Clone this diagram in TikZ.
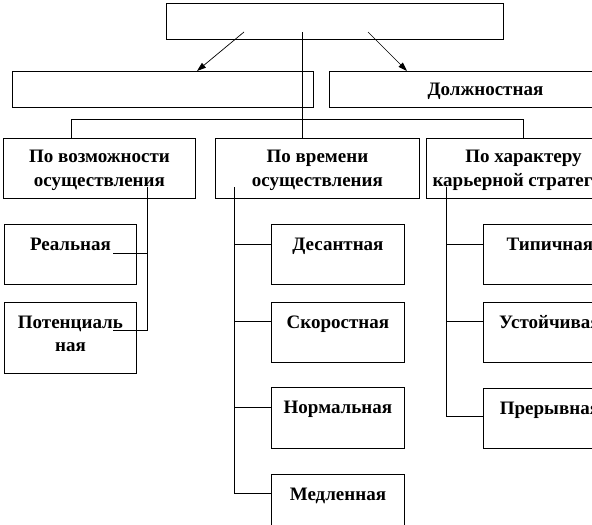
\documentclass[tikz,border=0pt]{standalone}
\usepackage{fontspec}
\setmainfont{Liberation Serif}
\usetikzlibrary{arrows.meta,calc}
\begin{document}
\begin{tikzpicture}[x=1pt,y=-1pt,
  box/.style={draw,line width=0.9pt,rectangle,inner sep=0pt,anchor=north west},
  txt/.style={anchor=base,inner sep=0pt,font=\fontsize{19}{23}\selectfont\bfseries},
  ln/.style={line width=0.9pt},
  arr/.style={line width=0.7pt,-{Triangle[length=9pt,width=6pt]}}]
\useasboundingbox (0,0) rectangle (592,525);
\clip (0,0) rectangle (592,525);
\fill[white] (0,0) rectangle (592,525);
% boxes
\node[box,minimum width=337pt,minimum height=36pt] (top) at (166,3) {};
\node[box,minimum width=301pt,minimum height=36pt] (r2l) at (12,71) {};
\node[box,minimum width=312pt,minimum height=36pt] (r2r) at (329,71) {};
\node[box,minimum width=192pt,minimum height=60pt] (c1) at (3,138) {};
\node[box,minimum width=204pt,minimum height=60pt] (c2) at (215,138) {};
\node[box,minimum width=194pt,minimum height=60pt] (c3) at (426,138) {};
\node[box,minimum width=132pt,minimum height=60pt] (c1a) at (4,224) {};
\node[box,minimum width=132pt,minimum height=71pt] (c1b) at (4,302) {};
\node[box,minimum width=133pt,minimum height=60pt] (c2a) at (271,224) {};
\node[box,minimum width=133pt,minimum height=60pt] (c2b) at (271,302) {};
\node[box,minimum width=133pt,minimum height=61pt] (c2c) at (271,387) {};
\node[box,minimum width=133pt,minimum height=61pt] (c2d) at (271,474) {};
\node[box,minimum width=133pt,minimum height=60pt] (c3a) at (483,224) {};
\node[box,minimum width=133pt,minimum height=60pt] (c3b) at (483,302) {};
\node[box,minimum width=133pt,minimum height=60pt] (c3c) at (483,388) {};
% texts
\node[txt] (t0) at ([yshift=-24pt]r2r.north) {Должностная};
\node[txt] (t1a) at ([yshift=-24pt]c1.north) {По возможности};
\node[txt] (t1b) at ([yshift=-48pt]c1.north) {осуществления};
\node[txt] (t2a) at ([yshift=-24pt]c2.north) {По времени};
\node[txt] (t2b) at ([yshift=-48pt]c2.north) {осуществления};
\node[txt] (t3a) at ([yshift=-24pt]c3.north) {По характеру};
\node[txt] (t3b) at ([yshift=-48pt]c3.north) {карьерной стратегии};
\node[txt] (u1) at ([yshift=-26pt]c1a.north) {Реальная};
\node[txt] (u2) at ([yshift=-26pt]c1b.north) {Потенциаль};
\node[txt] (u3) at ([yshift=-49pt]c1b.north) {ная};
\node[txt] (v1) at ([yshift=-26pt]c2a.north) {Десантная};
\node[txt] (v2) at ([yshift=-26pt]c2b.north) {Скоростная};
\node[txt] (v3) at ([yshift=-26pt]c2c.north) {Нормальная};
\node[txt] (v4) at ([yshift=-26pt]c2d.north) {Медленная};
\node[txt] (w1) at ([yshift=-26pt]c3a.north) {Типичная};
\node[txt] (w2) at ([yshift=-26pt]c3b.north) {Устойчивая};
\node[txt] (w3) at ([yshift=-26pt]c3c.north) {Прерывная};
% coordinates
\coordinate (a1s) at (244,32); \coordinate (a1e) at (197,71);
\coordinate (a2s) at (368,32); \coordinate (a2e) at (407,71);
\coordinate (tr) at (302,32);
\coordinate (bl) at (71,119); \coordinate (br) at (523,119);
\coordinate (s1) at (147,187);
\coordinate (j1a) at (113,253); \coordinate (j1b) at (113,330);
\coordinate (s2) at (234,187);
\coordinate (s3) at (446,187);
% connectors
\draw[arr] (a1s) -- (a1e);
\draw[arr] (a2s) -- (a2e);
\draw[ln] (tr) -- (tr |- c2.north);
\draw[ln] (bl |- c1.north) -- (bl) -- (br) -- (br |- c3.north);
\draw[ln] (s1) -- (s1 |- j1b) -- (j1b);
\draw[ln] (j1a) -- (s1 |- j1a);
\draw[ln] (s2) -- ($(s2)+(0,306)$);
\draw[ln] (s2 |- 0,244) -- (c2a.west |- 0,244);
\draw[ln] (s2 |- 0,321) -- (c2b.west |- 0,321);
\draw[ln] (s2 |- 0,407) -- (c2c.west |- 0,407);
\draw[ln] (s2 |- 0,493) -- (c2d.west |- 0,493);
\draw[ln] (s3) -- (s3 |- 0,416) -- (c3c.west |- 0,416);
\draw[ln] (s3 |- 0,244) -- (c3a.west |- 0,244);
\draw[ln] (s3 |- 0,321) -- (c3b.west |- 0,321);
\end{tikzpicture}
\end{document}
